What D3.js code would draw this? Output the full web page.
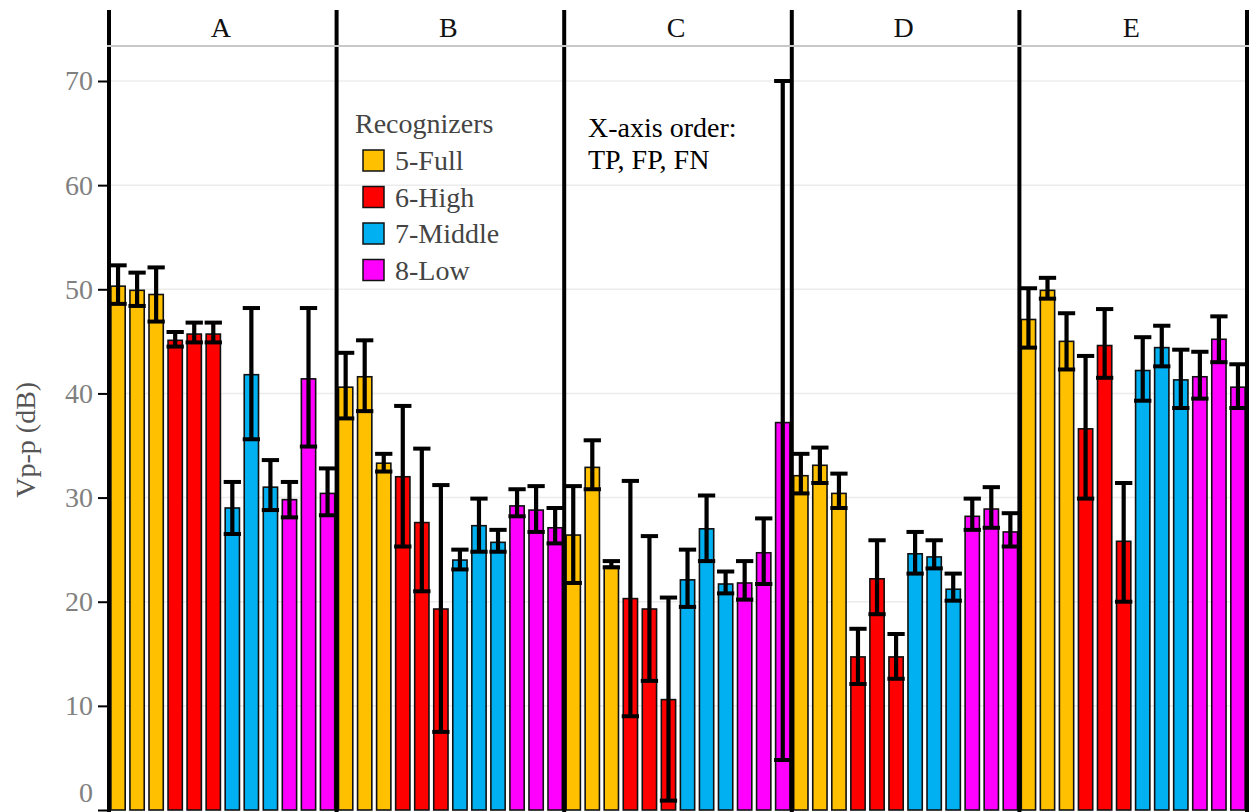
<!DOCTYPE html>
<html><head><meta charset="utf-8">
<script src="https://cdn.jsdelivr.net/npm/d3@7"></script>
<style>html,body{margin:0;padding:0;background:#fff;overflow:hidden}svg{display:block}</style>
</head><body>
<svg id="chart" width="1249" height="812"></svg>
<script>
// ---- data ----
const panels = ["A","B","C","D","E"];
const recognizers = ["5-Full","6-High","7-Middle","8-Low"];
const outcomes = ["TP","FP","FN"];
const colors = ["#FFC000","#FF0000","#00B0F0","#FF00FF"];
const yTicks = [0,10,20,30,40,50,60,70];

// means [panel][outcome]
const fullMean = [[50.3,49.9,49.5],[40.6,41.6,33.3],[26.4,32.9,23.4],[32.1,33.1,30.4],[47.1,49.9,45.0]];
const fullLo   = [[48.6,48.4,46.9],[37.6,38.3,32.5],[21.8,30.8,23.3],[30.4,31.4,29.0],[44.4,49.1,42.3]];
const fullHi   = [[52.3,51.6,52.1],[43.9,45.1,34.2],[31.1,35.5,23.9],[34.2,34.8,32.3],[50.1,51.1,47.7]];
const highMean = [[45.1,45.7,45.7],[32.0,27.6,19.3],[20.3,19.3,10.6],[14.7,22.2,14.7],[36.6,44.6,25.8]];
const highLo   = [[44.5,44.9,44.9],[25.3,21.0,7.5],[9.0,12.4,0.9],[12.1,18.8,12.6],[29.9,41.5,20.0]];
const highHi   = [[45.9,46.8,46.8],[38.8,34.7,31.2],[31.6,26.3,20.4],[17.4,25.9,16.9],[43.6,48.1,31.4]];
const midMean  = [[29.0,41.8,31.0],[24.0,27.3,25.7],[22.1,27.0,21.7],[24.6,24.3,21.2],[42.2,44.4,41.3]];
const midLo    = [[26.5,35.6,28.8],[23.1,24.8,24.8],[19.5,23.9,20.8],[22.7,23.2,20.1],[39.3,42.6,38.6]];
const midHi    = [[31.5,48.2,33.6],[25.0,29.9,26.9],[25.0,30.2,22.9],[26.7,25.9,22.7],[45.4,46.5,44.2]];
const lowMean  = [[29.8,41.4,30.4],[29.2,28.8,27.1],[21.8,24.7,37.2],[28.2,28.9,26.7],[41.6,45.2,40.6]];
const lowLo    = [[28.1,34.9,28.3],[28.2,26.7,25.6],[20.2,21.7,4.8],[26.9,27.1,25.3],[39.5,43.0,38.6]];
const lowHi    = [[31.5,48.2,32.8],[30.8,31.1,29.0],[23.9,28.0,70.0],[29.9,31.0,28.5],[44.0,47.4,42.8]];

const means = [fullMean, highMean, midMean, lowMean];
const los = [fullLo, highLo, midLo, lowLo];
const his = [fullHi, highHi, midHi, lowHi];

(function () {
// build records
const records = [];
panels.forEach((p, pi) => {
  recognizers.forEach((r, ri) => {
    outcomes.forEach((o, oi) => {
      records.push({panel: p, rec: r, ri, out: o, key: r + "|" + o,
        v: means[ri][pi][oi], lo: los[ri][pi][oi], hi: his[ri][pi][oi]});
    });
  });
});
const innerKeys = [];
recognizers.forEach(r => outcomes.forEach(o => innerKeys.push(r + "|" + o)));

// ---- layout ----
const FONT = "'Liberation Serif','Times New Roman',serif";
const svg = d3.select("#chart");
const mLeft = 109, mRight = 1247, mTop = 46, mBottom = 810;
const x0 = d3.scaleBand().domain(panels).range([mLeft, mRight]).padding(0);
const x1 = d3.scaleBand().domain(innerKeys).range([0, x0.bandwidth()]).paddingInner(0.25).paddingOuter(0.1);
const y = d3.scaleLinear().domain([0, 70]).range([mBottom, 81]);
const color = d3.scaleOrdinal().domain(recognizers).range(colors);

// gridlines
svg.append("g").selectAll("line").data(yTicks.filter(t => t > 0)).join("line")
  .attr("x1", mLeft).attr("x2", 1249).attr("y1", d => y(d)).attr("y2", d => y(d))
  .attr("stroke", "#ececec").attr("stroke-width", 1.5);

// y axis ticks & labels
const yAxis = d3.axisLeft(y).tickValues(yTicks).tickSize(11).tickPadding(5).tickFormat(d3.format("d"));
const gy = svg.append("g").attr("transform", `translate(${mLeft},0)`).call(yAxis);
gy.select(".domain").remove();
gy.selectAll(".tick line").attr("stroke", "#000").attr("stroke-width", 2);
gy.selectAll(".tick text").attr("font-family", FONT).attr("font-size", 28).attr("fill", "#808080")
  .attr("dy", d => d === 0 ? "-0.3em" : "0.32em");

// y title
svg.append("text").attr("transform", `translate(35,${(y(0) + y(73.4)) / 2 + 12}) rotate(-90)`)
  .attr("text-anchor", "middle").attr("font-family", FONT).attr("font-size", 28).attr("fill", "#555")
  .text("Vp-p (dB)");

// panels
const gp = svg.append("g").selectAll("g").data(panels).join("g")
  .attr("transform", d => `translate(${x0(d)},0)`);

gp.each(function(p) {
  const g = d3.select(this);
  const data = records.filter(d => d.panel === p);
  g.selectAll("rect").data(data).join("rect")
    .attr("x", d => x1(d.key)).attr("width", x1.bandwidth())
    .attr("y", d => y(d.v)).attr("height", d => y(0) - y(d.v))
    .attr("fill", d => color(d.rec)).attr("stroke", "#111").attr("stroke-width", 1.6);
  const cw = x1.bandwidth() + 3;
  const eb = g.selectAll("g.err").data(data).join("g").attr("class", "err");
  eb.append("line")
    .attr("x1", d => x1(d.key) + x1.bandwidth() / 2).attr("x2", d => x1(d.key) + x1.bandwidth() / 2)
    .attr("y1", d => y(d.lo)).attr("y2", d => y(d.hi))
    .attr("stroke", "#000").attr("stroke-width", 4.2);
  eb.append("line")
    .attr("x1", d => x1(d.key) + x1.bandwidth() / 2 - cw / 2).attr("x2", d => x1(d.key) + x1.bandwidth() / 2 + cw / 2)
    .attr("y1", d => y(d.hi)).attr("y2", d => y(d.hi))
    .attr("stroke", "#000").attr("stroke-width", 4);
  eb.append("line")
    .attr("x1", d => x1(d.key) + x1.bandwidth() / 2 - cw / 2).attr("x2", d => x1(d.key) + x1.bandwidth() / 2 + cw / 2)
    .attr("y1", d => y(d.lo)).attr("y2", d => y(d.lo))
    .attr("stroke", "#000").attr("stroke-width", 4);
  // header label
  g.append("text").attr("x", x0.bandwidth() / 2 - 2).attr("y", 37)
    .attr("text-anchor", "middle").attr("font-family", FONT).attr("font-size", 28).attr("fill", "#111")
    .text(p);
});

// panel separator lines
const seps = panels.map(p => x0(p)).concat([mRight]);
svg.append("g").selectAll("line").data(seps).join("line")
  .attr("x1", d => d).attr("x2", d => d).attr("y1", 10).attr("y2", 812)
  .attr("stroke", "#000").attr("stroke-width", 4);

// header bottom line
svg.append("line").attr("x1", mLeft - 2).attr("x2", 1249).attr("y1", mTop).attr("y2", mTop)
  .attr("stroke", "#c8c8c8").attr("stroke-width", 2);

// legend
const lg = svg.append("g").attr("transform", "translate(355,0)");
lg.append("text").attr("x", 0).attr("y", 133).attr("font-family", FONT).attr("font-size", 28)
  .attr("fill", "#444").text("Recognizers");
const li = lg.selectAll("g.li").data(recognizers).join("g").attr("class", "li")
  .attr("transform", (d, i) => `translate(0,${150 + i * 36.5})`);
li.append("rect").attr("x", 8).attr("y", 0).attr("width", 21).attr("height", 21)
  .attr("fill", d => color(d)).attr("stroke", "#111").attr("stroke-width", 1.5);
li.append("text").attr("x", 40).attr("y", 20).attr("font-family", FONT).attr("font-size", 28)
  .attr("fill", "#444").text(d => d);

// annotation
const ann = svg.append("text").attr("font-family", FONT).attr("font-size", 28).attr("fill", "#000");
ann.append("tspan").attr("x", 588).attr("y", 137).text("X-axis order:");
ann.append("tspan").attr("x", 588).attr("y", 169).text("TP, FP, FN");
})();
</script>
</body></html>
